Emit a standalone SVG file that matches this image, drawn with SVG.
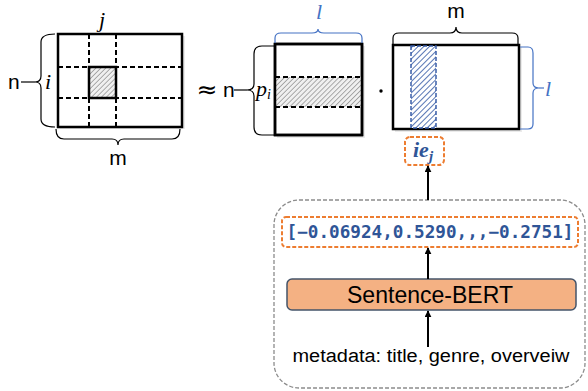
<svg xmlns="http://www.w3.org/2000/svg" width="588" height="391" viewBox="0 0 588 391">
<defs>
<pattern id="hatchGrey" patternUnits="userSpaceOnUse" width="3.5" height="3.5" patternTransform="rotate(45)">
<rect width="3.5" height="3.5" fill="#f0f0f0"/>
<line x1="0" y1="0" x2="0" y2="3.5" stroke="#707070" stroke-width="1.1"/>
</pattern>
<pattern id="hatchBlue" patternUnits="userSpaceOnUse" width="4" height="4" patternTransform="rotate(45)">
<rect width="4" height="4" fill="#ffffff"/>
<line x1="0" y1="0" x2="0" y2="4" stroke="#3a5ea8" stroke-width="1.7"/>
</pattern>
<marker id="arr" viewBox="0 0 10 10" refX="9" refY="5" markerWidth="7" markerHeight="7" markerUnits="userSpaceOnUse" orient="auto">
<path d="M0,0 L10,5 L0,10 z" fill="#000"/>
</marker>
</defs>
<style>
.mat{fill:#fff;stroke:#000;stroke-width:2.5}
.shadow{fill:#000;opacity:0.08}
.dash{stroke:#000;stroke-width:2;stroke-dasharray:5,3;fill:none}
.brace{fill:none;stroke:#000;stroke-width:1.2}
.bbrace{fill:none;stroke:#4472c4;stroke-width:1.2}
.lbl{font-family:"Liberation Sans",Arial,sans-serif;font-size:21px;fill:#000}
.math{font-family:"Liberation Serif","Times New Roman",serif;font-style:italic;font-size:22px;fill:#000}
.bmath{font-family:"Liberation Serif","Times New Roman",serif;font-style:italic;font-size:22px;fill:#4472c4}
.obox{fill:#fff;stroke:#ed7d31;stroke-width:2;stroke-dasharray:4,2}
.conn{stroke:#000;stroke-width:2;fill:none}
</style>

<g id="matrix-R">
<rect class="shadow" x="60" y="36" width="125" height="93"/>
<rect class="mat" x="58" y="34" width="124" height="93"/>
<line class="dash" x1="89" y1="34" x2="89" y2="127"/>
<line class="dash" x1="116" y1="34" x2="116" y2="127"/>
<line class="dash" x1="58" y1="67" x2="182" y2="67"/>
<line class="dash" x1="58" y1="98" x2="182" y2="98"/>
<rect x="89" y="67" width="27" height="31" fill="url(#hatchGrey)" stroke="#000" stroke-width="2.5"/>
<path class="brace" d="M55,34 Q41,34 41,42 L41,76 Q41,82 35,82 Q41,82 41,88 L41,119 Q41,127 55,127"/>
<line class="brace" x1="21" y1="82" x2="35" y2="82"/>
<text class="lbl" x="8" y="89">n</text>
<text class="math" x="45" y="89">i</text>
<text class="math" x="99" y="27">j</text>
<path class="brace" d="M56,129 Q56,139 64,139 L112,139 Q118,139 118,145 Q118,139 124,139 L172,139 Q180,139 180,129"/>
<text class="lbl" x="118" y="165" text-anchor="middle">m</text>
</g>

<text x="207" y="98" font-family="DejaVu Sans,sans-serif" font-size="25" text-anchor="middle" fill="#000">≈</text>

<g id="matrix-P">
<rect class="shadow" x="277" y="46" width="88" height="92"/>
<rect class="mat" x="275" y="44" width="87" height="91"/>
<rect x="275" y="77" width="87" height="30" fill="url(#hatchGrey)"/>
<line class="dash" x1="275" y1="77" x2="362" y2="77"/>
<line class="dash" x1="275" y1="107" x2="362" y2="107"/>
<rect x="275" y="44" width="87" height="91" fill="none" stroke="#000" stroke-width="2.5"/>
<path class="brace" d="M274,46 L262,46 Q254,46 254,54 L254,84 Q254,90 247,90 Q254,90 254,96 L254,127 Q254,135 262,135 L274,135"/>
<line class="brace" x1="234" y1="90" x2="247" y2="90"/>
<text class="lbl" x="223" y="97">n</text>
<text class="math" x="256" y="96">p<tspan font-size="14" dy="3">i</tspan></text>
<path class="bbrace" d="M275,43 L275,38 Q275,33 281,33 L312,33 Q318,33 318,29 Q318,33 324,33 L356,33 Q362,33 362,38 L362,43"/>
<text class="bmath" x="319" y="19" text-anchor="middle">l</text>
</g>

<circle cx="381" cy="91" r="1.7" fill="#000"/>

<g id="matrix-Q">
<rect class="shadow" x="395" y="47" width="127" height="85"/>
<rect class="mat" x="393" y="45" width="126" height="84"/>
<rect x="411" y="46" width="25" height="82" fill="url(#hatchBlue)" stroke="#3a5ea8" stroke-width="1.5" stroke-dasharray="4,2"/>
<path class="brace" d="M393,44 L393,38 Q393,33 399,33 L450,33 Q456,33 456,27 Q456,33 462,33 L512,33 Q518,33 518,38 L518,44"/>
<text class="lbl" x="456" y="18" text-anchor="middle">m</text>
<path class="bbrace" d="M520,47 L528,47 Q533,47 533,53 L533,83 Q533,88 539,88 Q533,88 533,93 L533,124 Q533,129 528,129 L520,129"/>
<line class="bbrace" x1="539" y1="88" x2="544" y2="88"/>
<text class="bmath" x="545" y="96">l</text>
</g>

<g id="ie-j">
<rect class="obox" x="405" y="137" width="39" height="28" rx="5"/>
<text x="413" y="157" font-family="Liberation Serif,serif" font-style="italic" font-weight="bold" font-size="22" fill="#2f5597">ie<tspan font-size="15" dy="4">j</tspan></text>
</g>

<g id="encoder-box">
<rect x="274" y="200" width="311" height="188" rx="25" fill="none" stroke="#8c8c8c" stroke-width="1.3" stroke-dasharray="4,2"/>
</g>

<g id="vector">
<rect class="obox" x="282" y="217" width="296" height="30" rx="4"/>
<text x="430" y="238" font-family="DejaVu Sans Mono,monospace" font-weight="bold" font-size="17.5" fill="#2f5597" text-anchor="middle" textLength="287" lengthAdjust="spacingAndGlyphs">[−0.06924,0.5290,,,−0.2751]</text>
</g>

<g id="sentence-bert">
<rect x="287" y="279" width="289" height="31" rx="5" fill="#f4b183" stroke="#44546a" stroke-width="1.5"/>
<text x="430" y="303" font-family="Liberation Sans,Arial,sans-serif" font-size="23" fill="#000" text-anchor="middle" textLength="166" lengthAdjust="spacingAndGlyphs">Sentence-BERT</text>
</g>

<g id="metadata">
<text x="431" y="362" font-family="Liberation Sans,Arial,sans-serif" font-size="18" fill="#000" text-anchor="middle" textLength="277" lengthAdjust="spacingAndGlyphs">metadata: title, genre, overveiw</text>
</g>

<g id="connectors">
<line class="conn" x1="428" y1="200" x2="428" y2="166" marker-end="url(#arr)"/>
<line class="conn" x1="428" y1="279" x2="428" y2="248" marker-end="url(#arr)"/>
<line class="conn" x1="428" y1="347" x2="428" y2="311" marker-end="url(#arr)"/>
</g>
</svg>
